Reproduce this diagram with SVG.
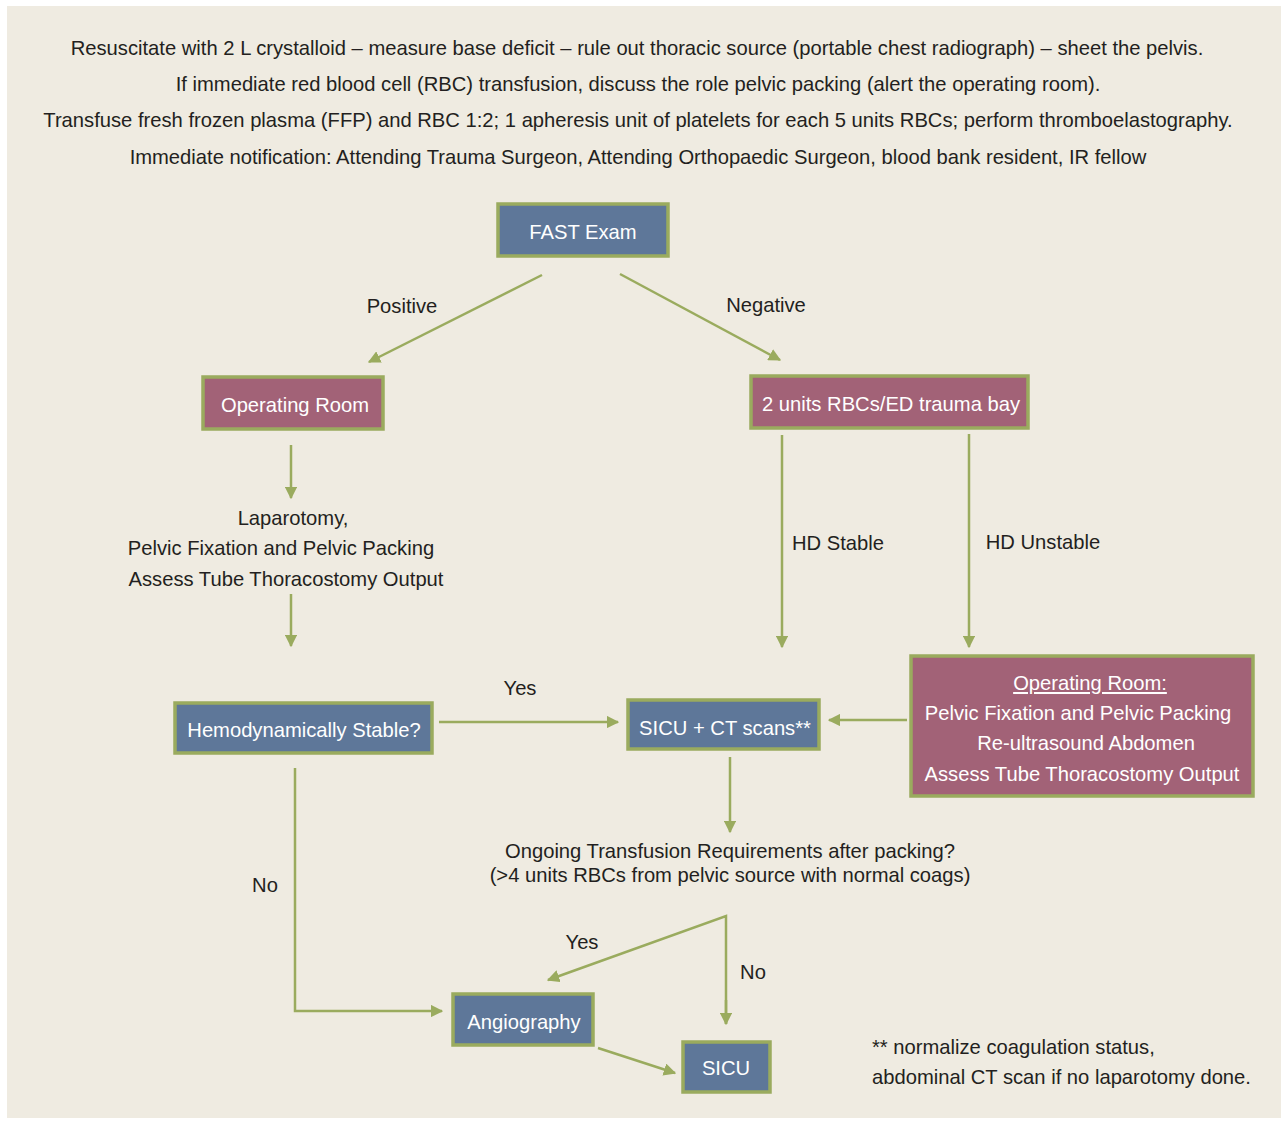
<svg xmlns="http://www.w3.org/2000/svg" width="1286" height="1122" viewBox="0 0 1286 1122">
<defs>
<style>
text{font-family:"Liberation Sans",Arial,sans-serif;font-size:20.2px;fill:#231f20}
.c{text-anchor:middle}
.w{fill:#ffffff}
.blue{fill:#5e7799;stroke:#9aab5e;stroke-width:3.5}
.pink{fill:#a26277;stroke:#9aab5e;stroke-width:3.5}
.con line,.con polyline{stroke:#9aab5e;stroke-width:2.5;fill:none}
</style>
<marker id="ah" viewBox="0 0 10 10" refX="9" refY="5" markerWidth="5" markerHeight="5" markerUnits="strokeWidth" orient="auto">
<path d="M0,0 L10,5 L0,10 z" fill="#9aab5e"/>
</marker>
</defs>
<rect x="0" y="0" width="1286" height="1122" fill="#ffffff"/>
<rect x="7" y="6" width="1274" height="1112" fill="#efebe1"/>
<g id="header">
<text class="c" x="637" y="55">Resuscitate with 2 L crystalloid – measure base deficit – rule out thoracic source (portable chest radiograph) – sheet the pelvis.</text>
<text class="c" x="638" y="91">If immediate red blood cell (RBC) transfusion, discuss the role pelvic packing (alert the operating room).</text>
<text class="c" x="638" y="127">Transfuse fresh frozen plasma (FFP) and RBC 1:2; 1 apheresis unit of platelets for each 5 units RBCs; perform thromboelastography.</text>
<text class="c" x="638" y="164">Immediate notification: Attending Trauma Surgeon, Attending Orthopaedic Surgeon, blood bank resident, IR fellow</text>
</g>
<g class="con" id="connectors">
<line x1="542" y1="275" x2="369" y2="362" marker-end="url(#ah)"/>
<line x1="620" y1="274" x2="780" y2="360" marker-end="url(#ah)"/>
<line x1="291" y1="445" x2="291" y2="498" marker-end="url(#ah)"/>
<line x1="291" y1="594" x2="291" y2="646" marker-end="url(#ah)"/>
<line x1="782" y1="435" x2="782" y2="647" marker-end="url(#ah)"/>
<line x1="969" y1="434" x2="969" y2="647" marker-end="url(#ah)"/>
<line x1="439" y1="722" x2="618" y2="722" marker-end="url(#ah)"/>
<line x1="907" y1="720" x2="829" y2="720" marker-end="url(#ah)"/>
<line x1="730" y1="757" x2="730" y2="832" marker-end="url(#ah)"/>
<polyline points="295,768 295,1011 442,1011" marker-end="url(#ah)"/>
<polyline points="726,1024 726,916 548,980" marker-end="url(#ah)"/>
<line x1="726" y1="1000" x2="726" y2="1024" marker-end="url(#ah)"/>
<line x1="598" y1="1048" x2="675" y2="1073" marker-end="url(#ah)"/>
</g>
<g id="labels">
<text class="c" x="402" y="313">Positive</text>
<text class="c" x="766" y="312">Negative</text>
<text class="c" x="293" y="525">Laparotomy,</text>
<text class="c" x="281" y="555">Pelvic Fixation and Pelvic Packing</text>
<text class="c" x="286" y="586">Assess Tube Thoracostomy Output</text>
<text class="c" x="838" y="550">HD Stable</text>
<text class="c" x="1043" y="549">HD Unstable</text>
<text class="c" x="520" y="695">Yes</text>
<text class="c" x="730" y="858">Ongoing Transfusion Requirements after packing?</text>
<text class="c" x="730" y="882">(&gt;4 units RBCs from pelvic source with normal coags)</text>
<text class="c" x="265" y="892">No</text>
<text class="c" x="582" y="949">Yes</text>
<text class="c" x="753" y="979">No</text>
<text x="872" y="1054">** normalize coagulation status,</text>
<text x="872" y="1084">abdominal CT scan if no laparotomy done.</text>
</g>
<g id="fast">
<rect class="blue" x="498" y="204" width="170" height="52"/>
<text class="c w" x="583" y="239">FAST Exam</text>
</g>
<g id="or1">
<rect class="pink" x="203" y="377" width="180" height="52"/>
<text class="c w" x="295" y="412">Operating Room</text>
</g>
<g id="rbc">
<rect class="pink" x="751" y="376" width="277" height="52"/>
<text class="c w" x="891" y="411">2 units RBCs/ED trauma bay</text>
</g>
<g id="hemo">
<rect class="blue" x="175" y="703" width="257" height="50"/>
<text class="c w" x="304" y="737">Hemodynamically Stable?</text>
</g>
<g id="sicuct">
<rect class="blue" x="628" y="700" width="191" height="49"/>
<text class="c w" x="725" y="735">SICU + CT scans**</text>
</g>
<g id="or2">
<rect class="pink" x="911" y="656" width="342" height="140"/>
<text class="c w" x="1090" y="690" text-decoration="underline">Operating Room:</text>
<text class="c w" x="1078" y="720">Pelvic Fixation and Pelvic Packing</text>
<text class="c w" x="1086" y="750">Re-ultrasound Abdomen</text>
<text class="c w" x="1082" y="781">Assess Tube Thoracostomy Output</text>
</g>
<g id="angio">
<rect class="blue" x="453" y="994" width="140" height="51"/>
<text class="c w" x="524" y="1029">Angiography</text>
</g>
<g id="sicu">
<rect class="blue" x="683" y="1042" width="87" height="50"/>
<text class="c w" x="726" y="1075">SICU</text>
</g>
</svg>
